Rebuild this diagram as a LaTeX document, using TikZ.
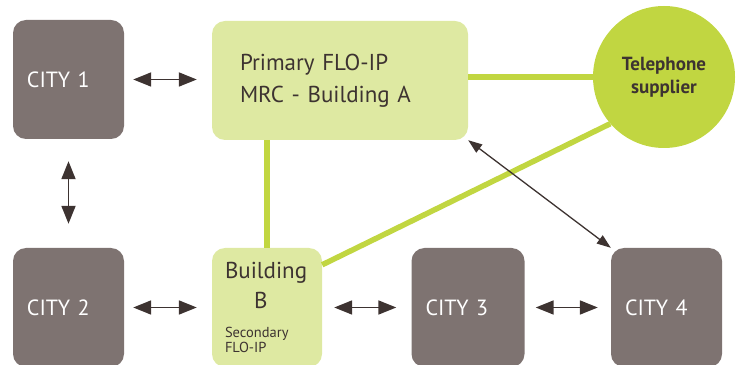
\documentclass[tikz,border=0pt]{standalone}
\usepackage{fontspec}
\setmainfont{PT Sans}
\usetikzlibrary{arrows.meta}

\definecolor{citygray}{HTML}{7E7371}
\definecolor{palegreen}{HTML}{DEE9A2}
\definecolor{limegreen}{HTML}{C1D641}
\definecolor{darkbrown}{HTML}{3D3331}

\tikzset{
    city/.style={fill=citygray, rounded corners=13pt, minimum height=119pt,
        text width=83pt, inner xsep=14pt, align=left, text=white,
        font=\fontsize{22}{26}\selectfont},
    site/.style={fill=palegreen, rounded corners=13pt, minimum height=119pt,
        align=left, text=darkbrown},
    link/.style={draw=limegreen, line width=5.5pt},
    dbl/.style={draw=darkbrown, line width=1.8pt,
        {Triangle[length=18pt,width=14pt]}-{Triangle[length=18pt,width=14pt]}},
}

\begin{document}
\begin{tikzpicture}[x=1pt, y=1pt]
    \path[use as bounding box, clip] (0,0) rectangle (736,364);
    % boxes
    \node[city] (city1) at (68.5,284.5) {CITY 1};
    \node[city] (city2) at (68.5,56.5) {CITY 2};
    \node[city, text width=85pt] (city3) at (468,56.5) {CITY 3};
    \node[city] (city4) at (666.5,56.5) {CITY 4};
    \node[site, text width=200pt, inner xsep=28pt,
        font=\fontsize{23}{32}\selectfont] (primary) at (340,283.5)
        {Primary FLO-IP\\MRC - Building A};
    \node[site, text width=84pt, inner xsep=13pt] (bldgb) at (267,56.5)
        {\fontsize{23}{30}\selectfont Building\par\hspace*{29pt}B\par
         \vspace{11pt}\fontsize{14.5}{18}\selectfont Secondary\par FLO-IP};
    \node[circle, fill=limegreen, minimum size=142pt, inner sep=0pt,
        align=center, text=darkbrown,
        font=\bfseries\fontsize{19}{23}\selectfont] (tel) at (664,287)
        {Telephone\\supplier};
    % green links
    \draw[link] (tel.west -| primary.east) -- (tel.west);
    \draw[link] (bldgb.north) -- (bldgb.north |- primary.south);
    \draw[link] ([yshift=-17pt]bldgb.north east) -- (tel.221);
    % arrows
    \draw[dbl, shorten <=9pt, shorten >=15pt] (city1.east) -- (city1.east -| primary.west);
    \draw[dbl, shorten <=22pt, shorten >=24pt] (city1.south) -- (city2.north);
    \draw[dbl, shorten <=9pt, shorten >=15pt] (city2.east) -- (bldgb.west);
    \draw[dbl, shorten <=12pt, shorten >=15pt] (bldgb.east) -- (city3.west);
    \draw[dbl, shorten <=11pt, shorten >=13pt] (city3.east) -- (city4.west);
    \draw[draw=darkbrown, line width=1.3pt,
        {Triangle[length=14pt,width=10pt]}-{Triangle[length=14pt,width=10pt]}]
        (primary.south east) -- (city4.north west);
\end{tikzpicture}
\end{document}
